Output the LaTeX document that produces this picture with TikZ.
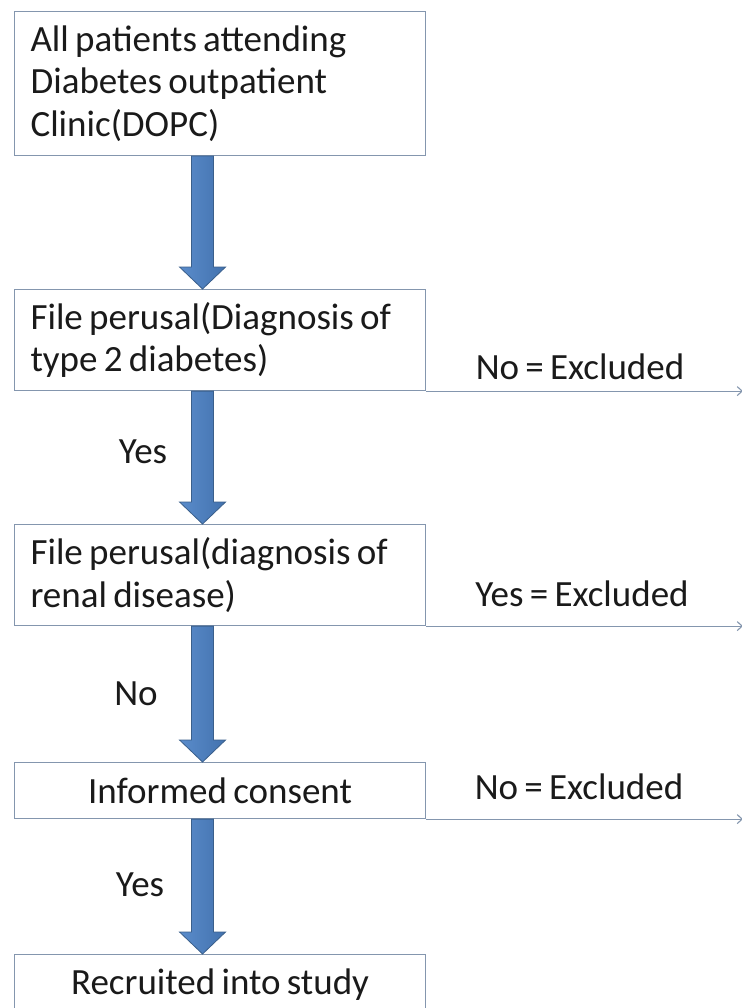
\documentclass[tikz,border=0pt]{standalone}
\usepackage{fontspec}
\setmainfont{Carlito}[WordSpace=0.75]
\usetikzlibrary{calc,arrows.meta}
\definecolor{boxline}{HTML}{8496AE}
\definecolor{arrfill}{HTML}{4F81BD}
\definecolor{arrlight}{HTML}{5A8CCB}
\definecolor{arrdark}{HTML}{4372AE}
\definecolor{arrline}{HTML}{3A5F8B}
\definecolor{txt}{HTML}{1A1A1A}
\tikzset{
  box/.style={draw=boxline, line width=1.1pt, fill=white, anchor=north west,
    minimum width=411pt, text width=379pt, inner xsep=16pt, inner ysep=0pt,
    font=\fontsize{37}{42.5}\selectfont, text=txt},
  lbl/.style={font=\fontsize{37}{42.5}\selectfont, text=txt, inner sep=0pt, anchor=base},
  barr/.style={left color=arrlight, right color=arrdark, draw=arrline, line width=0.8pt, line join=miter},
  conn/.style={draw=boxline, line width=1.1pt, -{Straight Barb[length=5pt,width=9pt]}}
}
\newcommand\blockarrow[2]{%
  \path[barr] let \p1=(#1.south), \p2=(#2.north) in
    (\x1-28.5pt,\y1) -- (\x1-6.5pt,\y1) -- (\x1-6.5pt,\y2+22pt) -- (\x1+5.5pt,\y2+22pt)
    -- (\x1-17.5pt,\y2) -- (\x1-40.5pt,\y2+22pt) -- (\x1-28.5pt,\y2+22pt) -- cycle;}
\begin{document}
\begin{tikzpicture}[x=1pt,y=-1pt]
\useasboundingbox[fill=white] (0,0) rectangle (741,1008);
\node[box, minimum height=144pt, align=flush left] (b1) at (14,11)
  {All patients attending\\Diabetes outpatient\\Clinic(DOPC)};
\node[box, minimum height=101pt, align=flush left] (b2) at (14,289)
  {File perusal(Diagnosis of\\type 2 diabetes)};
\node[box, minimum height=101pt, align=flush left] (b3) at (14,524)
  {File perusal(diagnosis of\\renal disease)};
\node[box, minimum height=56pt, align=flush center] (b4) at (14,762)
  {Informed consent};
\node[box, minimum height=60pt, align=flush center] (b5) at (14,954)
  {Recruited into study};
\blockarrow{b1}{b2}
\blockarrow{b2}{b3}
\blockarrow{b3}{b4}
\blockarrow{b4}{b5}
\node[lbl] (y1) at (143,463) {Yes};
\node[lbl] (n1) at (136,705) {No};
\node[lbl] (y2) at (140,896) {Yes};
\coordinate (rx) at (743,0);
\draw[conn] (b2.south east) -- (b2.south east -| rx);
\draw[conn] (b3.south east) -- (b3.south east -| rx);
\draw[conn] (b4.south east) -- (b4.south east -| rx);
\node[lbl] (e1) at (580,379) {No = Excluded};
\node[lbl] (e2) at (582,606) {Yes = Excluded};
\node[lbl] (e3) at (579,799) {No = Excluded};
\end{tikzpicture}
\end{document}
